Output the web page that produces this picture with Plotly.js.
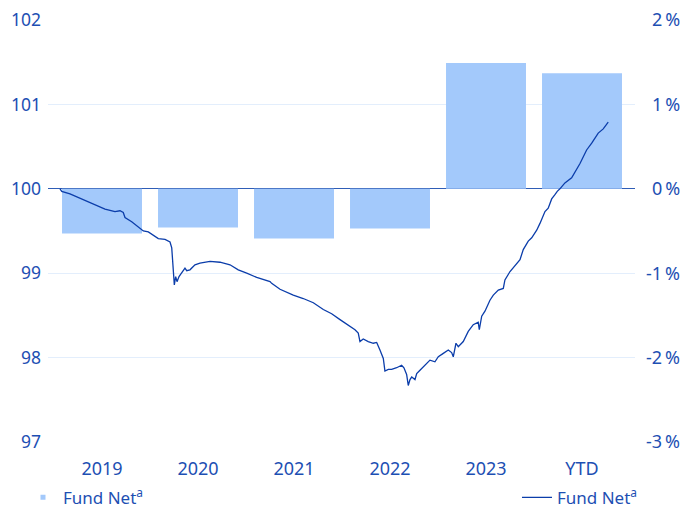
<!DOCTYPE html>
<html>
<head>
<meta charset="utf-8">
<script src="https://cdn.plot.ly/plotly-3.0.1.min.js"></script>
<style>html,body{margin:0;padding:0;background:#fff}#chart{width:684px;height:509px}</style>
</head>
<body>
<div id="chart"></div>
<script>
// Calendar-year returns (%), right axis
const categories = ['2019', '2020', '2021', '2022', '2023', 'YTD'];
const annualReturns = [-0.53, -0.46, -0.59, -0.47, 1.49, 1.37];

// Growth of 100 (left axis), time in decimal years
const lineYears = [2019.000, 2019.018, 2019.104, 2019.208, 2019.295, 2019.365, 2019.469, 2019.573, 2019.625, 2019.659,
  2019.677, 2019.747, 2019.833, 2019.868, 2019.920, 2019.972, 2020.024, 2020.094, 2020.146, 2020.164,
  2020.180, 2020.191, 2020.205, 2020.219, 2020.240, 2020.268, 2020.302, 2020.320, 2020.354, 2020.406,
  2020.458, 2020.563, 2020.667, 2020.771, 2020.857, 2020.945, 2021.049, 2021.188, 2021.205, 2021.292,
  2021.430, 2021.534, 2021.639, 2021.743, 2021.830, 2021.917, 2022.021, 2022.073, 2022.107, 2022.125,
  2022.159, 2022.211, 2022.264, 2022.299, 2022.333, 2022.368, 2022.385, 2022.420, 2022.455, 2022.507,
  2022.559, 2022.583, 2022.611, 2022.628, 2022.646, 2022.664, 2022.698, 2022.716, 2022.750, 2022.802,
  2022.854, 2022.906, 2022.941, 2022.993, 2023.045, 2023.080, 2023.097, 2023.125, 2023.149, 2023.201,
  2023.253, 2023.305, 2023.341, 2023.357, 2023.368, 2023.393, 2023.427, 2023.479, 2023.514, 2023.566,
  2023.618, 2023.635, 2023.688, 2023.740, 2023.792, 2023.826, 2023.878, 2023.914, 2023.966, 2024.000,
  2024.052, 2024.086, 2024.122, 2024.156, 2024.180, 2024.208, 2024.260, 2024.330, 2024.365, 2024.417,
  2024.486, 2024.539, 2024.607, 2024.659, 2024.711];
const lineValues = [100.00, 99.97, 99.94, 99.89, 99.85, 99.81, 99.76, 99.73, 99.74, 99.72,
  99.66, 99.61, 99.53, 99.50, 99.49, 99.45, 99.41, 99.40, 99.37, 99.30,
  99.02, 98.86, 98.96, 98.90, 98.96, 99.01, 99.06, 99.03, 99.04, 99.10,
  99.12, 99.14, 99.13, 99.10, 99.04, 99.00, 98.95, 98.90, 98.88, 98.81,
  98.74, 98.70, 98.65, 98.57, 98.52, 98.45, 98.37, 98.33, 98.29, 98.19,
  98.22, 98.19, 98.17, 98.18, 98.09, 97.99, 97.84, 97.86, 97.86, 97.88,
  97.91, 97.88, 97.80, 97.67, 97.74, 97.77, 97.74, 97.81, 97.85, 97.91,
  97.97, 97.95, 98.01, 98.05, 98.09, 98.06, 98.01, 98.17, 98.13, 98.19,
  98.31, 98.39, 98.41, 98.42, 98.33, 98.49, 98.55, 98.68, 98.74, 98.80,
  98.82, 98.92, 99.02, 99.09, 99.16, 99.28, 99.38, 99.42, 99.51, 99.59,
  99.73, 99.77, 99.88, 99.93, 99.97, 100.00, 100.07, 100.13, 100.20, 100.30,
  100.46, 100.54, 100.66, 100.71, 100.79];

const pctTicks = [-3, -2, -1, 0, 1, 2];
const pctTickText = ['-3\u2009%', '-2\u2009%', '-1\u2009%', '\u20040\u2009%', '\u20041\u2009%', '\u20042\u2009%'];
const priceTicks = [97, 98, 99, 100, 101, 102];

const textColor = '#1d4fb3';
const barColor = '#a3c9fb';
const fontFamily = '"Noto Sans", "Open Sans", sans-serif';

const traces = [
  {
    type: 'bar', x: categories, y: annualReturns, xaxis: 'x', yaxis: 'y',
    name: 'Fund Net<sup>a</sup>', marker: {color: barColor},
    showlegend: false, hoverinfo: 'skip'
  },
  {
    // legend entry for the bars (small square key as in the reference)
    type: 'scatter', mode: 'markers', x: [null], y: [null], xaxis: 'x', yaxis: 'y',
    name: 'Fund Net<sup>a</sup>', marker: {color: barColor, symbol: 'square', size: 5},
    legend: 'legend', hoverinfo: 'skip'
  },
  {
    type: 'scatter', mode: 'lines', x: lineYears, y: lineValues, xaxis: 'x2', yaxis: 'y2',
    name: 'Fund Net<sup>a</sup>', line: {color: '#0b3daa', width: 1.3},
    legend: 'legend2', hoverinfo: 'skip'
  }
];

const layout = {
  width: 684, height: 509,
  margin: {l: 48, r: 49, t: 20, b: 67},
  paper_bgcolor: '#ffffff', plot_bgcolor: '#ffffff',
  font: {family: fontFamily, color: textColor, size: 18},
  bargap: 0.167,
  showlegend: true,
  xaxis: {
    type: 'category', range: [-0.5625, 5.552], showgrid: false, zeroline: false,
    showline: false, ticks: '', ticklabelstandoff: 14, tickfont: {size: 18, color: textColor}
  },
  xaxis2: {
    type: 'linear', overlaying: 'x', range: [2018.875, 2024.99], visible: false
  },
  yaxis: {
    side: 'right', range: [-3, 2], tickvals: pctTicks, ticktext: pctTickText,
    showgrid: true, gridcolor: '#e3eefc', gridwidth: 1,
    zeroline: true, zerolinecolor: '#2f5db6', zerolinewidth: 1.3,
    showline: false, ticks: '', ticklabelstandoff: 10, tickfont: {size: 18, color: textColor}
  },
  yaxis2: {
    side: 'left', overlaying: 'y', range: [97, 102], tickvals: priceTicks,
    showgrid: false, zeroline: false, showline: false, ticks: '',
    ticklabelstandoff: 6, tickfont: {size: 17.5, color: textColor}
  },
  legend: {
    orientation: 'h', x: -0.0426, xanchor: 'left', yref: 'container', y: 0.022, yanchor: 'middle',
    font: {size: 17, color: textColor}, bgcolor: 'rgba(0,0,0,0)'
  },
  legend2: {
    orientation: 'h', x: 1.0136, xanchor: 'right', yref: 'container', y: 0.022, yanchor: 'middle',
    font: {size: 17, color: textColor}, bgcolor: 'rgba(0,0,0,0)'
  }
};

Plotly.newPlot('chart', traces, layout, {displayModeBar: false, staticPlot: true});
</script>
</body>
</html>
